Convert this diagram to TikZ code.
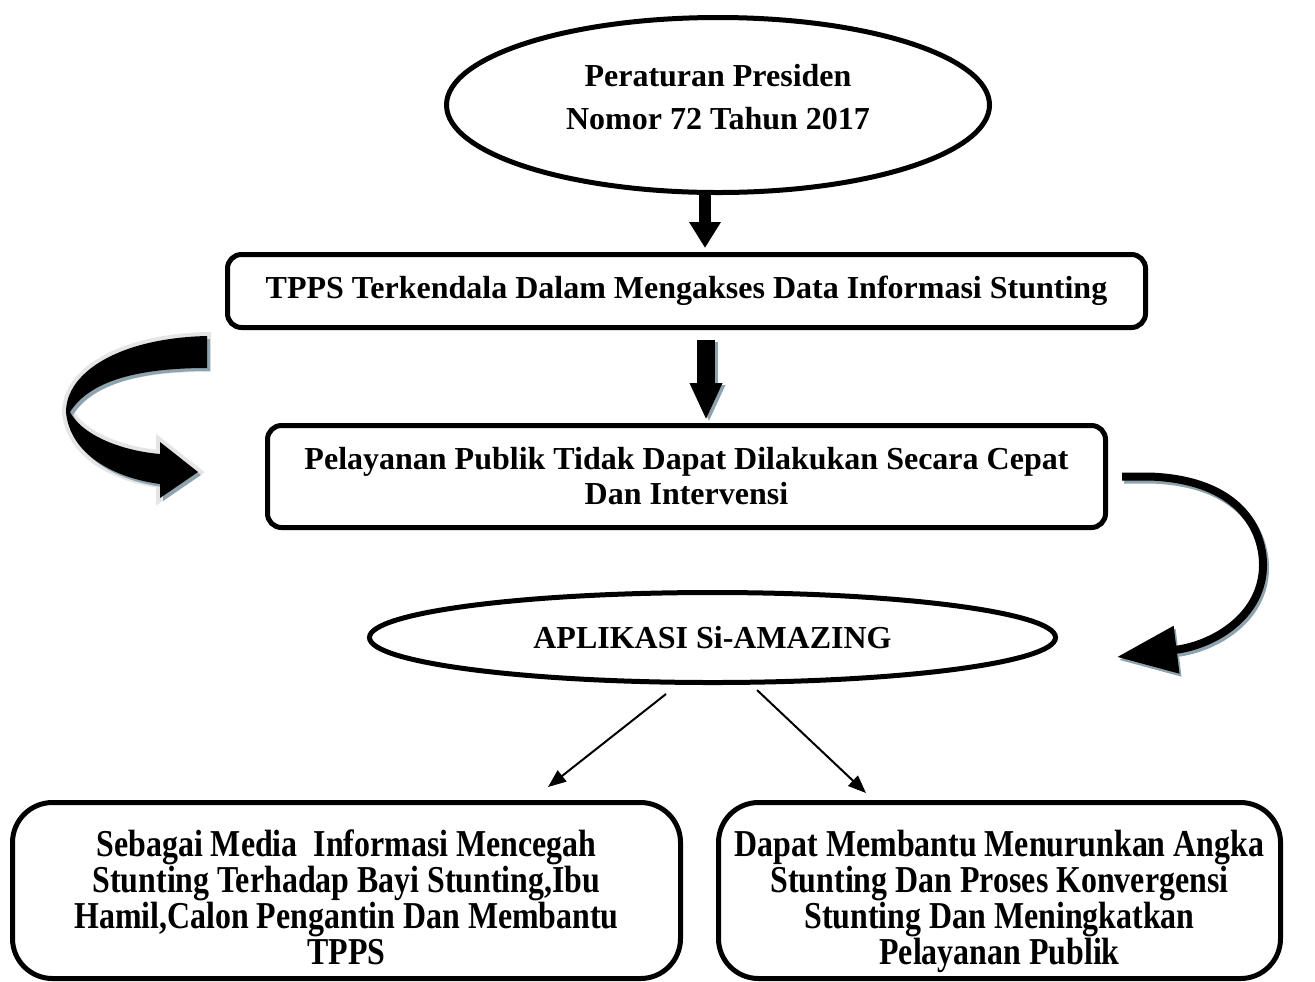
\documentclass[tikz,border=0pt]{standalone}
\usepackage{fontspec}
\setmainfont{Liberation Serif}
\newfontfamily\sempit[FakeStretch=0.84]{Liberation Serif}
\usepackage{tikz}
\usetikzlibrary{shapes.geometric,arrows.meta}
\definecolor{bayang}{HTML}{8EA3AD}

\begin{document}
\begin{tikzpicture}[x=0.5pt,y=-0.5pt,
    oval/.style={ellipse,draw,line width=2.5pt,inner sep=0pt,align=center,
      font=\bfseries\fontsize{16}{21.5}\selectfont},
    kotak/.style={draw,rounded corners=7pt,line width=2.5pt,inner sep=0pt,align=center,
      font=\bfseries\fontsize{16}{17.5}\selectfont},
    kotakbawah/.style={draw,rounded corners=20pt,line width=2.5pt,inner sep=0pt,align=center,
      minimum height=88pt,text height=74pt,text depth=0pt,
      font=\sempit\bfseries\fontsize{19}{18}\selectfont},
    blok/.style={line width=6pt,-{Triangle[length=13pt,width=15pt]}},
    blokbesar/.style={line width=9pt,-{Triangle[length=18.5pt,width=15pt]}},
    lengkung/.style={line width=4pt,-{Triangle[length=30pt,width=23pt]}},
    tipis/.style={line width=1pt,-{Triangle[length=9pt,width=7pt]}}]
  \useasboundingbox (0,0) rectangle (1315,981);

  \path
  (718,105) node[oval,minimum width=271.5pt,minimum height=87.5pt,text depth=8pt](perpres)
    {Peraturan Presiden\\Nomor 72 Tahun 2017}
  (686.5,291) node[kotak,minimum width=459pt,minimum height=36.5pt](tpps)
    {TPPS Terkendala Dalam Mengakses Data Informasi Stunting}
  (686.5,476.5) node[kotak,minimum width=419pt,minimum height=51pt](layanan)
    {Pelayanan Publik Tidak Dapat Dilakukan Secara Cepat\\Dan Intervensi}
  (712.5,637.5) node[oval,minimum width=343pt,minimum height=45pt](aplikasi)
    {APLIKASI Si-AMAZING}
  (346.5,890.5) node[kotakbawah,minimum width=334pt](media)
    {Sebagai Media~ Informasi Mencegah\\Stunting Terhadap Bayi Stunting,Ibu\\
     Hamil,Calon Pengantin Dan Membantu\\TPPS}
  (999.5,890.5) node[kotakbawah,minimum width=281pt](bantu)
    {Dapat Membantu Menurunkan Angka\\Stunting Dan Proses Konvergensi\\
     Stunting Dan Meningkatkan\\Pelayanan Publik}
  (666,694) coordinate(a1)
  (548,787) coordinate(a2)
  (757,690) coordinate(b1)
  (866,793) coordinate(b2)
  (1117,657) coordinate(ujung)
  ;

  \draw[blok,shorten >=2pt] ([xshift=-6.5pt]perpres.south) -- ([xshift=9.25pt]tpps.north);
  \draw[blokbesar,bayang,shorten >=1.5pt,transform canvas={shift={(1.5pt,-1pt)}}]
    ([xshift=9.75pt,yshift=-5pt]tpps.south) -- ([xshift=9.75pt]layanan.north);
  \draw[blokbesar,shorten >=1.5pt]
    ([xshift=9.75pt,yshift=-5pt]tpps.south) -- ([xshift=9.75pt]layanan.north);

  % panah balik kanan
  \draw[lengkung,bayang,transform canvas={shift={(1pt,-1.5pt)}}]
    ([xshift=7pt]layanan.east) -- +(14pt,0)
    .. controls (1240,480) and (1263,530) .. (1263,565)
    .. controls (1263,615) and (1215,645) .. (ujung);
  \draw[lengkung]
    ([xshift=7pt]layanan.east) -- +(14pt,0)
    .. controls (1240,480) and (1263,530) .. (1263,565)
    .. controls (1263,615) and (1215,645) .. (ujung);

  % panah putar kiri
  \fill[black,preaction={draw=black!10,line width=4pt},
    preaction={fill=bayang,transform canvas={shift={(1.5pt,-1.5pt)}}}]
    (207,336) .. controls (120,338) and (66,372) .. (66,412)
    .. controls (70,455) and (115,478) .. (160,484)
    -- (160,498) -- (198,472) -- (160,442) -- (160,454)
    .. controls (115,450) and (80,432) .. (70,412)
    .. controls (90,380) and (140,368) .. (207,368) -- cycle;

  \draw[tipis] (a1) -- (a2);
  \draw[tipis] (b1) -- (b2);
\end{tikzpicture}
\end{document}
